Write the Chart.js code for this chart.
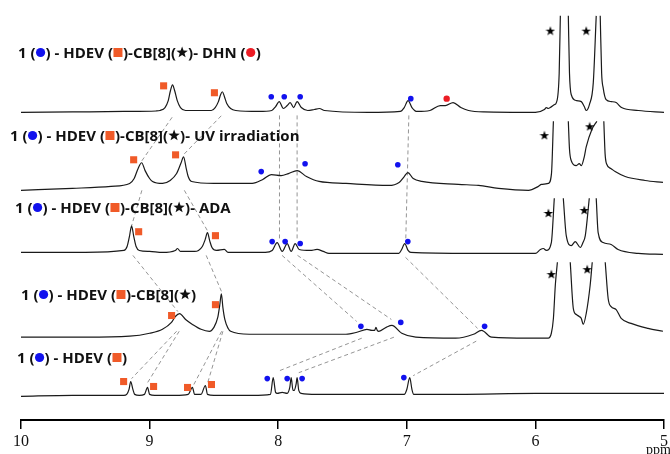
<!DOCTYPE html>
<html>
<head>
<meta charset="utf-8">
<script src="https://cdn.jsdelivr.net/npm/chart.js@4.4.1/dist/chart.umd.min.js"></script>
<style>
  html, body { margin: 0; padding: 0; background: #fff; }
  #wrap { width: 670px; height: 454px; position: relative; }
</style>
</head>
<body>
<div id="wrap"><canvas id="nmr"></canvas></div>
<script>
// x axis ticks (ppm)
const ppmTicks = [10, 9, 8, 7, 6, 5];

// stack offsets of the five spectra, top to bottom
const traceOffsets = [312, 235, 170, 84, 25];

// spectra as [ppm, intensity]; null = trace leaves the frame (clipped peak)
const specDHN = [[10,0],[9.6,0.5],[9.2,1],[8.95,1.5],[8.92,2],[8.88,5],[8.855,12],[8.838,22],[8.822,28],[8.805,22],[8.785,12],[8.76,5],[8.72,2],[8.6,2],[8.52,2],[8.49,5],[8.465,11],[8.448,18],[8.434,21],[8.418,16],[8.40,9],[8.37,4],[8.33,2],[8.15,1],[8.05,2],[8.02,6],[7.992,11],[7.96,4],[7.93,7],[7.907,10],[7.88,5],[7.853,11],[7.82,5],[7.77,2],[7.72,3],[7.68,4],[7.64,2],[7.3,0],[7.05,1],[7.02,5],[6.99,12],[6.96,5],[6.92,1],[6.82,2],[6.74,7],[6.70,7],[6.64,10],[6.58,5],[6.52,2],[6.4,0.5],[6.0,0],[5.93,3],[5.915,5],[5.9,4],[5.884,5],[5.85,8],[5.837,10],[5.815,40],[5.806,98],[5.77,null],[5.744,98],[5.735,40],[5.721,18],[5.68,12],[5.643,11],[5.62,6],[5.605,2],[5.58,8],[5.55,30],[5.527,98],[5.51,null],[5.496,98],[5.485,40],[5.473,25],[5.45,13],[5.41,11],[5.372,10],[5.33,5],[5.2,2],[5.0,0]];
const specUV = [[10,-2],[9.6,0],[9.3,2],[9.155,5],[9.12,10],[9.09,20],[9.062,26],[9.035,18],[9.0,10],[8.977,7],[8.899,5],[8.84,8],[8.79,15],[8.755,26],[8.736,32],[8.715,20],[8.70,12],[8.674,7],[8.5,5],[8.202,5],[8.12,9],[8.054,14],[7.977,13],[7.92,15],[7.853,18],[7.78,12],[7.682,7],[7.473,5],[7.14,3],[7.06,6],[7.02,12],[6.992,16],[6.95,10],[6.884,7],[6.6,4],[6.442,3],[6.287,0],[6.054,-2],[5.977,2],[5.953,4],[5.899,5],[5.875,15],[5.86,68],[5.8,null],[5.744,68],[5.735,40],[5.721,28],[5.682,23],[5.659,25],[5.643,23],[5.62,32],[5.605,42],[5.56,60],[5.522,68],[5.5,null],[5.468,68],[5.458,35],[5.447,25],[5.411,20],[5.380,17],[5.302,12],[5.147,8],[5.008,6]];
const specADA = [[10,0],[9.5,0],[9.20,2],[9.175,6],[9.157,16],[9.14,27],[9.123,16],[9.105,6],[9.08,2],[9.0,1],[8.9,0],[8.80,2],[8.783,4],[8.76,1],[8.65,1],[8.62,2],[8.59,6],[8.568,13],[8.55,20],[8.533,12],[8.515,5],[8.48,2],[8.419,3],[8.39,0],[8.1,0],[8.047,2],[8.008,10],[7.969,1],[7.93,9],[7.899,1],[7.868,9],[7.837,3],[7.75,2],[7.698,3],[7.65,1],[7.605,-1],[7.062,-1],[7.04,3],[7.016,9],[6.99,2],[6.969,0],[6.5,-1],[6.0,-1],[5.961,3],[5.938,4],[5.915,2],[5.876,10],[5.853,55],[5.82,null],[5.783,55],[5.760,17],[5.721,7],[5.690,11],[5.651,5],[5.63,10],[5.612,17],[5.581,55],[5.55,null],[5.527,55],[5.512,20],[5.473,10],[5.411,8],[5.357,3],[5.2,-1],[5.008,-2]];
const specCB8 = [[10,0],[9.5,0],[9.155,1],[9.0,4],[8.9,8],[8.83,15],[8.80,21],[8.767,24],[8.72,18],[8.667,13],[8.6,8],[8.535,6],[8.50,10],[8.47,20],[8.455,32],[8.442,44],[8.43,30],[8.415,18],[8.39,9],[8.37,6],[8.225,3],[8.0,3],[7.7,3],[7.473,3],[7.388,5],[7.31,8],[7.271,7],[7.25,7],[7.24,10],[7.23,7],[7.217,6],[7.16,10],[7.116,12],[7.039,4],[6.93,0],[6.62,-1],[6.481,3],[6.419,7],[6.341,0],[6.054,-1],[5.9,-1],[5.876,4],[5.86,19],[5.845,53],[5.829,76],[5.78,null],[5.729,76],[5.705,29],[5.682,23],[5.659,21],[5.643,19],[5.628,13],[5.605,24],[5.574,53],[5.558,76],[5.5,null],[5.457,76],[5.434,39],[5.411,31],[5.372,28],[5.333,19],[5.256,14],[5.124,9],[5.008,6]];
const specHDEV = [[10,-1],[9.6,0],[9.2,0],[9.178,1],[9.16,6],[9.147,14],[9.13,6],[9.116,1],[9.08,0],[9.04,1],[9.016,8],[9.0,1],[8.96,0],[8.8,0],[8.70,1],[8.667,8],[8.65,1],[8.60,1],[8.566,10],[8.55,1],[8.5,0],[8.2,0],[8.06,1],[8.039,18],[8.02,3],[8.008,2],[7.969,3],[7.93,2],[7.91,8],[7.899,18],[7.885,5],[7.876,5],[7.86,12],[7.853,18],[7.84,5],[7.822,2],[7.7,1],[7.3,1],[7.02,1],[7.0,6],[6.977,18],[6.96,6],[6.946,1],[6.6,1],[6.0,2],[5.5,2],[5.0,2]];
const spectra = [specDHN, specUV, specADA, specCB8, specHDEV];

// peak markers: [trace, ppm, height above trace baseline]
const marksGuest1 = [[0,8.054,16],[0,7.953,16],[0,7.829,16],[0,6.969,14],[1,8.132,17],[1,7.791,25],[1,7.070,24],[2,8.047,11],[2,7.946,11],[2,7.829,9],[2,6.992,11],[3,7.357,11],[3,7.047,15],[3,6.395,11],[4,8.085,17],[4,7.930,17],[4,7.814,17],[4,7.023,18]];
const marksHDEV = [[0,8.891,27],[0,8.496,20],[1,9.124,29],[1,8.798,34],[2,9.085,21],[2,8.488,17],[3,8.829,22],[3,8.488,33],[4,9.202,14],[4,8.969,9],[4,8.705,8],[4,8.519,11]];
const marksCB8 = [[0,5.884,83],[0,5.605,83],[1,5.930,54],[1,5.578,63],[2,5.899,40],[2,5.620,43],[3,5.876,64],[3,5.597,69]];
const marksDHN = [[0,6.690,14]];

// dashed guides: [traceA, ppmA, hA, traceB, ppmB, hB]
const guides = [
  [1,9.06,28, 0,8.82,-4], [1,8.73,35, 0,8.44,-3],
  [0,7.99,-3, 2,7.99,13], [0,7.853,-3, 2,7.853,13], [0,6.984,-3, 2,7.008,13],
  [1,9.06,-2, 2,9.14,27], [1,8.73,-2, 2,8.55,22],
  [2,9.13,-3, 3,8.78,26], [2,8.56,-3, 3,8.44,46],
  [2,7.97,-3, 3,7.39,16], [2,7.85,-3, 3,7.12,18], [2,7.01,-5, 3,6.45,9],
  [3,8.79,6, 4,9.14,17], [3,8.77,6, 4,9.02,12], [3,8.44,6, 4,8.66,10], [3,8.43,6, 4,8.55,12],
  [3,7.35,-1, 4,7.99,25], [3,7.10,0, 4,7.84,23], [3,6.46,-4, 4,6.95,20]
];

// sample labels, top to bottom ({b} blue dot, {o} orange square, {s} star, {r} red dot)
const sampleLabels = [
  '1 ({b}) - HDEV ({o})-CB[8]({s})- DHN ({r})',
  '1 ({b}) - HDEV ({o})-CB[8]({s})- UV irradiation',
  '1 ({b}) - HDEV ({o})-CB[8]({s})- ADA',
  '1 ({b}) - HDEV ({o})-CB[8]({s})',
  '1 ({b}) - HDEV ({o})'
];
const labelAnchor = [[18, 58], [10, 141], [15, 213], [21, 300], [17, 363]];

const BLUE = '#1212ee', ORANGE = '#f05a28', RED = '#ec1c24', INK = '#1a1a1a';

function starPath(ctx, cx, cy, ro, ri) {
  ctx.beginPath();
  for (let i = 0; i < 10; i++) {
    const r = i % 2 ? ri : ro;
    const a = -Math.PI / 2 + i * Math.PI / 5;
    ctx.lineTo(cx + r * Math.cos(a), cy + r * Math.sin(a));
  }
  ctx.closePath();
}
function starImage(size) {
  const c = document.createElement('canvas');
  c.width = c.height = size;
  const g = c.getContext('2d');
  starPath(g, size / 2, size / 2 + 0.5, size / 2, size / 5);
  g.fillStyle = '#000';
  g.fill();
  return c;
}

const markData = list => list.map(([t, p, h]) => ({ x: p, y: h + traceOffsets[t] }));

const guideData = [];
guides.forEach(([ta, pa, ha, tb, pb, hb]) => {
  guideData.push({ x: pa, y: ha + traceOffsets[ta] });
  guideData.push({ x: pb, y: hb + traceOffsets[tb] });
  guideData.push({ x: pb, y: null });
});

const datasets = [];
datasets.push({ data: markData(marksGuest1), showLine: false, pointStyle: 'circle', pointRadius: 2.8, pointBackgroundColor: BLUE, pointBorderWidth: 0, order: 0 });
datasets.push({ data: markData(marksHDEV), showLine: false, pointStyle: 'rect', pointRadius: 5, pointBackgroundColor: ORANGE, pointBorderWidth: 0, order: 0 });
datasets.push({ data: markData(marksDHN), showLine: false, pointStyle: 'circle', pointRadius: 3.2, pointBackgroundColor: RED, pointBorderWidth: 0, order: 0 });
datasets.push({ data: markData(marksCB8), showLine: false, pointStyle: starImage(10), pointRadius: 5, order: 0 });
spectra.forEach((spec, i) => {
  datasets.push({
    data: spec.map(([p, h]) => ({ x: p, y: h === null ? null : h + traceOffsets[i] })),
    borderColor: INK, borderWidth: 1.2, pointRadius: 0,
    cubicInterpolationMode: 'monotone', spanGaps: false, order: 1
  });
});
datasets.push({ data: guideData, borderColor: '#7a7a7a', borderWidth: 0.8, borderDash: [4, 3], pointRadius: 0, tension: 0, spanGaps: false, order: 2 });

// draws the sample captions and the ppm unit
const captions = {
  id: 'captions',
  afterDraw(chart) {
    const ctx = chart.ctx;
    ctx.save();
    ctx.font = 'bold 15px "Open Sans"';
    ctx.textBaseline = 'alphabetic';
    sampleLabels.forEach((txt, i) => {
      let [x, y] = labelAnchor[i];
      txt.split(/(\{[bosr]\})/).forEach(part => {
        if (!part) return;
        if (part === '{b}' || part === '{r}') {
          ctx.fillStyle = part === '{b}' ? BLUE : RED;
          ctx.beginPath(); ctx.arc(x + 5, y - 5.5, 4.6, 0, Math.PI * 2); ctx.fill();
          x += 10;
        } else if (part === '{o}') {
          ctx.fillStyle = ORANGE;
          ctx.fillRect(x + 0.5, y - 10, 9, 9);
          x += 10;
        } else if (part === '{s}') {
          ctx.fillStyle = '#111';
          starPath(ctx, x + 6, y - 5.5, 6, 2.5); ctx.fill();
          x += 12;
        } else {
          ctx.fillStyle = '#111';
          ctx.fillText(part, x, y);
          x += ctx.measureText(part).width;
        }
      });
    });
    ctx.font = '14px "Liberation Sans Narrow"';
    ctx.fillStyle = '#111';
    ctx.textAlign = 'right';
    ctx.textBaseline = 'top';
    ctx.fillText('ppm', 671, 443);
    ctx.restore();
  }
};

new Chart(document.getElementById('nmr').getContext('2d'), {
  type: 'line',
  data: { datasets },
  options: {
    responsive: true,
    maintainAspectRatio: false,
    animation: false,
    devicePixelRatio: 1,
    layout: { padding: { left: 21, right: 4, top: 0, bottom: 0 } },
    plugins: { legend: { display: false }, tooltip: { enabled: false } },
    scales: {
      x: {
        type: 'linear', reverse: true, min: 5, max: 10,
        afterBuildTicks: s => { s.ticks = ppmTicks.map(v => ({ value: v })); },
        afterFit: s => { s.height = 34; s.paddingLeft = 0; s.paddingRight = 0; },
        border: { display: true, color: '#000', width: 2 },
        grid: { display: true, drawOnChartArea: false, drawTicks: true, tickLength: 9, color: '#000', lineWidth: 1.5 },
        ticks: { color: '#111', font: { family: 'Liberation Sans Narrow', size: 16 }, padding: 3, maxRotation: 0, autoSkip: false }
      },
      y: { display: false, min: 0, max: 420 }
    }
  },
  plugins: [captions]
});
</script>
</body>
</html>
